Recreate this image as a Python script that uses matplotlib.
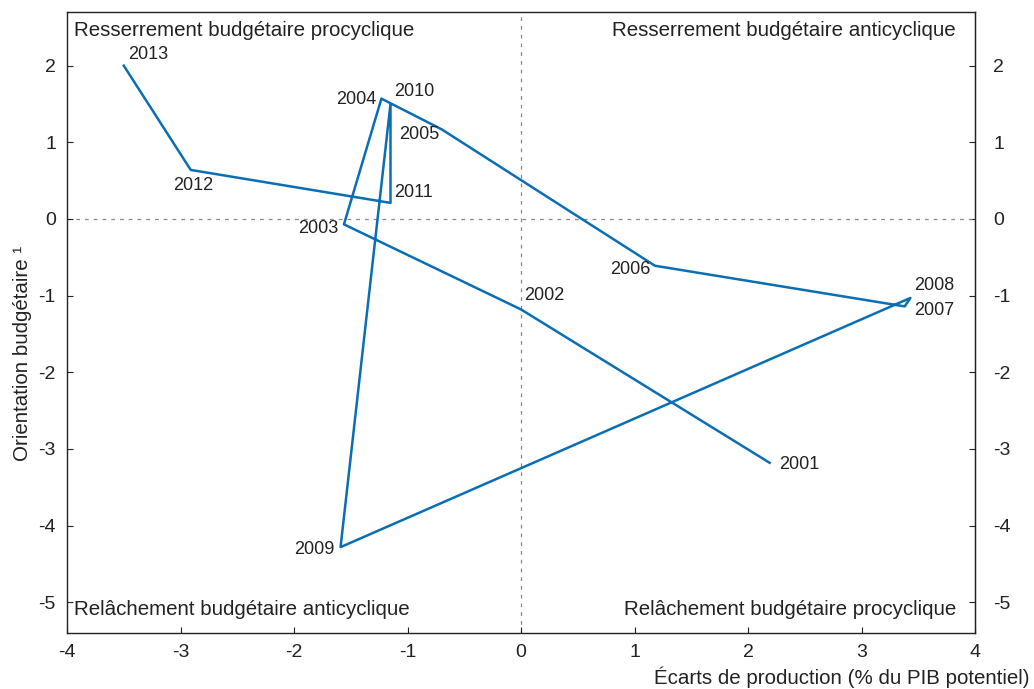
import matplotlib
matplotlib.use("Agg")
import matplotlib.pyplot as plt

plt.rcParams["font.family"] = ["Liberation Sans", "DejaVu Sans"]
plt.rcParams["axes.unicode_minus"] = False

# Écart de production (x) et orientation budgétaire (y), 2001-2013
annees = ["2001", "2002", "2003", "2004", "2005", "2006", "2007",
          "2008", "2009", "2010", "2011", "2012", "2013"]
ecart_production = [2.19, 0.00, -1.56, -1.23, -0.70, 1.18, 3.38,
                    3.43, -1.59, -1.15, -1.15, -2.91, -3.50]
orientation = [-3.18, -1.18, -0.07, 1.57, 1.17, -0.61, -1.14,
               -1.03, -4.28, 1.50, 0.21, 0.64, 2.00]
graduations_x = list(range(-4, 5))
graduations_y = list(range(-5, 3))

# placement des étiquettes (décalage en pixels, alignement)
placement = {
    "2001": (10, -2, "left", "center"),
    "2002": (3, 5, "left", "bottom"),
    "2003": (-6, -4, "right", "center"),
    "2004": (-5, -1, "right", "center"),
    "2005": (-2, 3, "right", "top"),
    "2006": (-4, -4, "right", "center"),
    "2007": (9, -4, "left", "center"),
    "2008": (4, 12, "left", "center"),
    "2009": (-6, -2, "right", "center"),
    "2010": (4, 4, "left", "bottom"),
    "2011": (4, 10, "left", "center"),
    "2012": (2, -7, "center", "top"),
    "2013": (4, 3, "left", "bottom"),
}

fig = plt.figure(figsize=(10.34, 6.89), dpi=100)
ax = fig.add_axes([0.0648, 0.0813, 0.8782, 0.9013])

ax.axhline(0, color="#888888", lw=0.9, ls=(0, (3, 4)), zorder=1)
ax.axvline(0, color="#888888", lw=0.9, ls=(0, (3, 4)), zorder=1)

ax.plot(ecart_production, orientation, color="#0A6EB4", lw=1.8, zorder=2)

for an, x, y in zip(annees, ecart_production, orientation):
    dx, dy, ha, va = placement[an]
    ax.annotate(an, (x, y), xytext=(dx, dy), textcoords="offset pixels",
                ha=ha, va=va, fontsize=13, color="#222222")

quadrants = [
    (0.008, 0.985, "left", "top", "Resserrement budgétaire procyclique"),
    (0.979, 0.985, "right", "top", "Resserrement budgétaire anticyclique"),
    (0.008, 0.022, "left", "bottom", "Relâchement budgétaire anticyclique"),
    (0.979, 0.022, "right", "bottom", "Relâchement budgétaire procyclique"),
]
for x, y, ha, va, txt in quadrants:
    ax.text(x, y, txt, transform=ax.transAxes, ha=ha, va=va,
            fontsize=14.8, color="#222222")

ax.set_xlim(-4, 4)
ax.set_ylim(-5.4, 2.7)
ax.set_xticks(graduations_x)
ax.set_yticks(graduations_y)
ax.tick_params(direction="in", length=4, labelsize=14, colors="#222222")
ax.tick_params(axis="y", pad=8)
ax.tick_params(axis="x", pad=8)
for s in ax.spines.values():
    s.set_color("#222222")
    s.set_linewidth(1.0)

# axe de droite, mêmes graduations
droite = ax.secondary_yaxis("right")
droite.set_yticks(graduations_y)
droite.tick_params(direction="in", length=4, labelsize=14, colors="#222222", pad=13)
droite.spines["right"].set_color("#222222")

fig.text(1030 / 1034, 1 - 677 / 689, "Écarts de production (% du PIB potentiel)",
         ha="right", va="center", fontsize=14.8, color="#222222")
fig.text(23 / 1034, 1 - 353 / 689, "Orientation budgétaire ¹", rotation=90,
         ha="center", va="center", fontsize=14.8, color="#222222")

fig.savefig("out.png", dpi=100)
